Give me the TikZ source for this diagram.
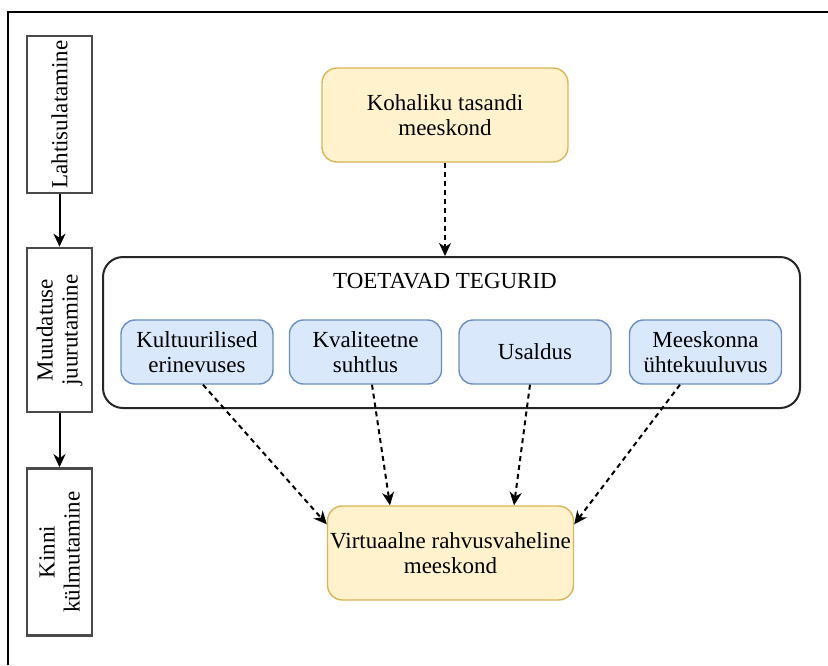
\documentclass[tikz,border=0pt]{standalone}
\usepackage{fontspec}
\setmainfont{Liberation Serif}
\usetikzlibrary{arrows.meta,calc}

\definecolor{yfill}{HTML}{FFF2CC}
\definecolor{ydraw}{HTML}{D6B656}
\definecolor{bfill}{HTML}{DAE8FC}
\definecolor{bdraw}{HTML}{6C8EBF}
\definecolor{phase}{HTML}{4A4A4A}

\tikzset{
  txt/.style={font=\fontsize{23}{25}\selectfont, align=center, inner sep=0pt},
  teambox/.style={txt, draw=ydraw, fill=yfill, line width=1.4pt, rounded corners=15pt,
    minimum width=246pt, minimum height=94pt},
  factor/.style={txt, draw=bdraw, fill=bfill, line width=1.4pt, rounded corners=14pt,
    minimum width=152pt, minimum height=64pt},
  phasebox/.style={txt, draw=phase, line width=2.6pt, rotate=90, minimum height=65pt},
  group/.style={draw=black!85, line width=2pt, rounded corners=20pt,
    minimum width=697pt, minimum height=151pt, inner sep=0pt},
  flow/.style={-{Stealth[length=13pt,width=12pt,inset=4pt]}, line width=2pt},
  influence/.style={flow, dash pattern=on 5pt off 4pt},
}

\begin{document}
\begin{tikzpicture}[x=1pt,y=-1pt]
  \useasboundingbox (0,0) rectangle (828,665);
  \fill[white] (0,0) rectangle (828,665);

  % outer frame (left and top edges)
  \draw[line width=2pt] (8,665) -- (8,12) -- (828,12);

  % phases
  \node[phasebox, minimum width=157pt] (p1) at (59.5,114.5) {Lahtisulatamine};
  \node[phasebox, minimum width=164pt] (p2) at (59.5,330) {Muudatuse\\juurutamine};
  \node[phasebox, minimum width=167pt] (p3) at (59.5,552) {Kinni\\külmutamine};
  \draw[flow] (p1) -- (p2);
  \draw[flow] (p2) -- (p3);

  % teams
  \node[teambox] (local) at (445,115) {Kohaliku tasandi\\meeskond};
  \node[teambox] (virtual) at (450.5,553) {Virtuaalne rahvusvaheline\\meeskond};

  % supporting factors
  \node[group] (grp) at (451.5,332.5) {};
  \node[txt] (title) at (445,281) {TOETAVAD TEGURID};
  \node[factor] (f1) at (197,352) {Kultuurilised\\erinevuses};
  \node[factor] (f2) at (365.5,352) {Kvaliteetne\\suhtlus};
  \node[factor] (f3) at (535,352) {Usaldus};
  \node[factor] (f4) at (705.5,352) {Meeskonna\\ühtekuuluvus};

  \draw[influence] (local.south) -- (local.south |- grp.north);
  \draw[influence] ([xshift=6pt]f1.south) -- ([yshift=-19pt]virtual.north west);
  \draw[influence] ([xshift=6.5pt]f2.south) -- ([xshift=-60.5pt]virtual.north);
  \draw[influence] ([xshift=-5pt]f3.south) -- ([xshift=63.5pt]virtual.north);
  \draw[influence] ([xshift=-25.5pt]f4.south) -- ([yshift=-19pt]virtual.north east);
\end{tikzpicture}
\end{document}
